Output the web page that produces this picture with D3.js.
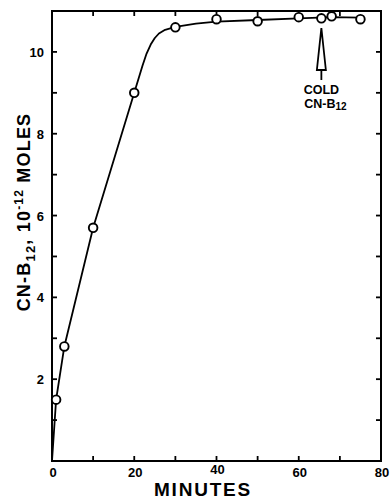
<!DOCTYPE html>
<html><head><meta charset="utf-8">
<script src="https://cdn.jsdelivr.net/npm/d3@7"></script>
<style>html,body{margin:0;padding:0;background:#fff;} svg{display:block;}</style>
</head><body>
<svg id="c" width="391" height="499"></svg>
<script>
// Measured points
const minutes = [1, 3, 10, 20, 30, 40, 50, 60, 65.5, 68, 75];
const moles   = [1.5, 2.8, 5.7, 9.0, 10.6, 10.8, 10.75, 10.85, 10.82, 10.87, 10.8];
// Hand-drawn smooth curve
const curveX = [0, 1, 3, 10, 20, 22, 23, 24, 25, 26, 27.5, 30, 35, 40, 50, 60, 68, 75];
const curveY = [0, 1.5, 2.8, 5.7, 9.0, 9.66, 9.96, 10.18, 10.34, 10.45, 10.54, 10.61, 10.69, 10.74, 10.78, 10.82, 10.85, 10.84];
const xTickLabels = [0, 20, 40, 60, 80];
const yTickLabels = [2, 4, 6, 8, 10];
const arrowAt = 65.5;

const svg = d3.select("#c");
const L = 52, R = 381, T = 11, B = 461;
const x = d3.scaleLinear().domain([0, 80]).range([L, R]);
const y = d3.scaleLinear().domain([0, 11]).range([B, T]);
const font = "'Liberation Sans', Arial, Helvetica, sans-serif";

// frame
svg.append("rect").attr("x", L).attr("y", T).attr("width", R - L).attr("height", B - T)
  .attr("fill", "none").attr("stroke", "#000").attr("stroke-width", 2);

const tk = 5;
const xt = d3.range(10, 80, 10), yt = d3.range(1, 11, 1);
const g = svg.append("g").attr("stroke", "#000").attr("stroke-width", 1.8);
xt.forEach(v => {
  g.append("line").attr("x1", x(v)).attr("x2", x(v)).attr("y1", B).attr("y2", B - tk);
  g.append("line").attr("x1", x(v)).attr("x2", x(v)).attr("y1", T).attr("y2", T + tk);
});
yt.forEach(v => {
  g.append("line").attr("x1", L).attr("x2", L + tk).attr("y1", y(v)).attr("y2", y(v));
  g.append("line").attr("x1", R).attr("x2", R - tk).attr("y1", y(v)).attr("y2", y(v));
});

// tick labels
svg.selectAll(".xl").data(xTickLabels).enter().append("text")
  .attr("x", d => x(d) + 1).attr("y", d => d === 40 ? 474 : 477).attr("text-anchor", "middle")
  .attr("font-family", font).attr("font-weight", "bold").attr("font-size", 13).text(d => d);
svg.selectAll(".yl").data(yTickLabels).enter().append("text")
  .attr("x", 44).attr("y", d => y(d) + 5).attr("text-anchor", "end")
  .attr("font-family", font).attr("font-weight", "bold").attr("font-size", 13).text(d => d);

// curve
const pts = curveX.map((v, i) => [v, curveY[i]]);
svg.append("path").datum(pts)
  .attr("d", d3.line().x(d => x(d[0])).y(d => y(d[1])).curve(d3.curveLinear))
  .attr("fill", "none").attr("stroke", "#000").attr("stroke-width", 1.8).attr("stroke-linejoin", "round");

// points
svg.selectAll(".pt").data(minutes.map((v, i) => [v, moles[i]])).enter().append("circle")
  .attr("cx", d => x(d[0])).attr("cy", d => y(d[1])).attr("r", 4.3)
  .attr("fill", "#fff").attr("stroke", "#000").attr("stroke-width", 1.9);

// arrow
const ax = x(arrowAt);
const tipY = 28, baseY = 70, stemY = 80, hw = 4.5;
svg.append("path")
  .attr("d", `M${ax},${tipY} L${ax - hw},${baseY} L${ax + hw},${baseY} Z`)
  .attr("fill", "#fff").attr("stroke", "#000").attr("stroke-width", 1.8).attr("stroke-linejoin", "miter");
svg.append("line").attr("x1", ax).attr("x2", ax).attr("y1", baseY).attr("y2", stemY)
  .attr("stroke", "#000").attr("stroke-width", 1.8);

// annotation
svg.append("text").attr("x", ax).attr("y", 94).attr("text-anchor", "middle")
  .attr("font-family", font).attr("font-weight", "bold").attr("font-size", 12.5).text("COLD");
const cn = svg.append("text").attr("x", ax + 4).attr("y", 108).attr("text-anchor", "middle")
  .attr("font-family", font).attr("font-weight", "bold").attr("font-size", 12.5);
cn.append("tspan").text("CN-B");
cn.append("tspan").attr("font-size", 10).attr("dy", 2).text("12");

// axis titles
svg.append("text").attr("x", 203).attr("y", 496).attr("text-anchor", "middle")
  .attr("font-family", font).attr("font-weight", "bold").attr("font-size", 19).attr("letter-spacing", 1.8).text("MINUTES");

const yl = svg.append("text").attr("transform", "translate(30,212) rotate(-90)")
  .attr("text-anchor", "middle").attr("font-family", font).attr("font-weight", "bold")
  .attr("font-size", 18).attr("letter-spacing", 1.2);
yl.append("tspan").text("CN-B");
yl.append("tspan").attr("font-size", 13).attr("dy", 5).text("12");
yl.append("tspan").attr("dy", -5).text(", 10");
yl.append("tspan").attr("font-size", 12).attr("dy", -7).text("-12");
yl.append("tspan").attr("dy", 7).text(" MOLES");
</script>
</body></html>
